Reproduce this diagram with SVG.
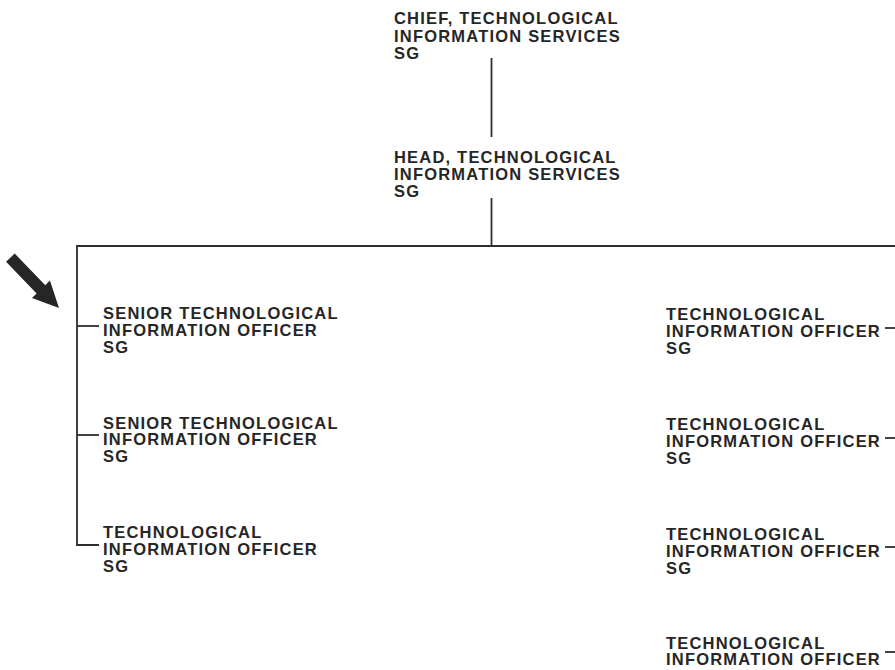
<svg xmlns="http://www.w3.org/2000/svg" width="895" height="670" viewBox="0 0 895 670">
<style>
.t{font-family:"Liberation Sans",Arial,sans-serif;font-weight:bold;font-size:16.5px;letter-spacing:1.2px;fill:#262626}
.c{stroke:#2e2e2e;stroke-width:1.8;fill:none}
</style>
<rect width="895" height="670" fill="#fff"/>
<g id="connectors">
<line class="c" x1="491.5" y1="58" x2="491.5" y2="137"/>
<line class="c" x1="491.5" y1="198" x2="491.5" y2="246"/>
<line class="c" x1="77" y1="246" x2="895" y2="246"/>
<polyline class="c" points="77,245 77,545 99,545"/>
<line class="c" x1="77" y1="326" x2="99" y2="326"/>
<line class="c" x1="77" y1="435" x2="99" y2="435"/>
<line class="c" x1="885" y1="328" x2="895" y2="328"/>
<line class="c" x1="885" y1="438" x2="895" y2="438"/>
<line class="c" x1="885" y1="547" x2="895" y2="547"/>
<line class="c" x1="885" y1="652" x2="895" y2="652"/>
</g>
<g id="pointer">
<polygon transform="translate(59,308) rotate(46)" points="0,0 -26,-12.5 -26,-6 -70,-6 -70,6 -26,6 -26,12.5" fill="#262626"/>
</g>
<g id="chief">
<text class="t" x="394" y="23.5">CHIEF, TECHNOLOGICAL</text>
<text class="t" x="394" y="41.5">INFORMATION SERVICES</text>
<text class="t" x="394" y="59">SG</text>
</g>
<g id="head">
<text class="t" x="394" y="162.5">HEAD, TECHNOLOGICAL</text>
<text class="t" x="394" y="180">INFORMATION SERVICES</text>
<text class="t" x="394" y="197">SG</text>
</g>
<g id="left1">
<text class="t" x="103" y="318.5">SENIOR TECHNOLOGICAL</text>
<text class="t" x="103" y="335.5">INFORMATION OFFICER</text>
<text class="t" x="103" y="353">SG</text>
</g>
<g id="left2">
<text class="t" x="103" y="428.5">SENIOR TECHNOLOGICAL</text>
<text class="t" x="103" y="445">INFORMATION OFFICER</text>
<text class="t" x="103" y="462">SG</text>
</g>
<g id="left3">
<text class="t" x="103" y="537.5">TECHNOLOGICAL</text>
<text class="t" x="103" y="555">INFORMATION OFFICER</text>
<text class="t" x="103" y="572">SG</text>
</g>
<g id="right1">
<text class="t" x="666" y="320">TECHNOLOGICAL</text>
<text class="t" x="666" y="337">INFORMATION OFFICER</text>
<text class="t" x="666" y="354">SG</text>
</g>
<g id="right2">
<text class="t" x="666" y="430">TECHNOLOGICAL</text>
<text class="t" x="666" y="447">INFORMATION OFFICER</text>
<text class="t" x="666" y="463.5">SG</text>
</g>
<g id="right3">
<text class="t" x="666" y="539.5">TECHNOLOGICAL</text>
<text class="t" x="666" y="557">INFORMATION OFFICER</text>
<text class="t" x="666" y="573.5">SG</text>
</g>
<g id="right4">
<text class="t" x="666" y="648.5">TECHNOLOGICAL</text>
<text class="t" x="666" y="665">INFORMATION OFFICER</text>
</g>
</svg>
